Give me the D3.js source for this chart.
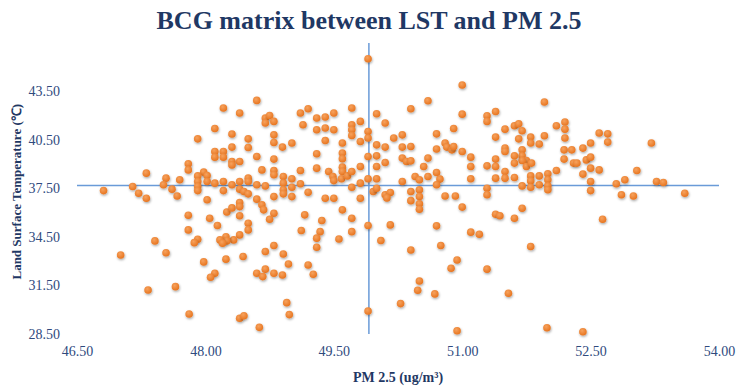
<!DOCTYPE html>
<html>
<head>
<meta charset="utf-8">
<script src="https://cdn.jsdelivr.net/npm/d3@7"></script>
<style>
  body { margin: 0; background: #fff; }
  svg { display: block; font-family: "Palatino Linotype", "Book Antiqua", Palatino, "Liberation Serif", serif; }
</style>
</head>
<body>
<div id="chart"></div>
<script>
// PM 2.5 (ug/m3) readings, one per point
const pm25 = [
  48.21, 48.40, 48.11, 48.31, 48.50, 47.91, 48.50, 48.11, 48.21, 48.11,
  48.21, 48.31, 48.31, 48.40, 48.31, 47.80, 47.80, 47.98, 48.02, 47.91,
  47.31, 47.54, 47.70, 47.91, 48.02, 48.11, 48.21, 48.31, 48.40, 48.50,
  47.51, 47.61, 47.91, 47.91, 48.21, 48.40, 48.45, 48.50, 47.15, 47.22,
  47.31, 46.81, 48.02, 47.67, 48.50, 47.80, 47.80, 48.05, 48.14, 48.25,
  48.31, 48.40, 48.40, 48.40, 48.50, 48.50, 48.40, 48.33, 48.24, 48.25,
  48.17, 48.20, 47.91, 47.87, 47.41, 47.54, 47.01, 47.98, 48.24, 48.44,
  48.11, 48.06, 47.65, 47.33, 47.81, 48.40, 48.45, 49.90, 48.60, 48.70,
  48.75, 48.70, 48.80, 49.11, 49.20, 49.14, 49.30, 49.40, 49.50, 49.71,
  49.30, 49.40, 49.50, 49.71, 49.71, 49.71, 49.81, 49.90, 49.90, 50.00,
  48.80, 48.80, 48.90, 49.01, 49.40, 49.60, 49.60, 49.60, 49.81, 50.00,
  50.00, 48.60, 48.80, 49.30, 49.90, 48.66, 48.80, 48.80, 49.11, 49.30,
  49.44, 49.60, 49.60, 49.81, 50.00, 48.91, 49.01, 49.49, 49.50, 49.59,
  49.66, 49.71, 49.90, 50.00, 48.60, 48.70, 48.91, 49.01, 49.11, 48.91,
  49.81, 49.20, 49.71, 48.80, 48.91, 49.01, 49.40, 49.50, 49.81, 49.96,
  48.60, 48.66, 48.68, 48.80, 48.75, 49.60, 49.71, 49.71, 49.90, 49.16,
  49.36, 49.12, 49.34, 49.30, 49.30, 49.56, 48.80, 48.70, 48.91, 48.97,
  48.70, 48.60, 48.67, 48.80, 48.90, 49.20, 49.26, 48.95, 48.98, 48.63,
  49.90, 51.00, 50.60, 50.40, 51.00, 50.10, 51.29, 51.29, 51.39, 51.50,
  50.20, 50.30, 50.70, 50.90, 50.10, 50.30, 50.40, 50.80, 50.82, 50.88,
  50.90, 50.70, 51.00, 51.39, 51.50, 51.50, 50.30, 50.35, 50.40, 50.10,
  50.60, 51.10, 50.55, 51.10, 51.29, 51.39, 51.39, 51.50, 50.70, 50.45,
  50.50, 50.60, 50.74, 50.30, 50.70, 51.10, 51.39, 51.50, 50.10, 50.16,
  50.40, 50.50, 50.50, 50.80, 50.92, 51.29, 51.29, 50.00, 50.12, 50.40,
  50.50, 50.50, 51.00, 51.39, 50.16, 50.05, 50.70, 51.10, 51.20, 50.40,
  50.75, 50.94, 50.87, 51.29, 50.50, 50.48, 50.68, 50.28, 51.54, 50.94,
  51.96, 51.61, 51.66, 51.70, 51.66, 51.80, 51.80, 51.90, 51.96, 52.10,
  52.20, 52.20, 52.20, 52.60, 52.70, 52.70, 51.70, 51.70, 51.75, 51.70,
  51.61, 51.61, 51.75, 51.81, 52.19, 52.28, 52.41, 52.50, 52.19, 52.30,
  52.34, 52.45, 52.50, 52.50, 52.60, 51.61, 51.80, 51.80, 51.90, 52.00,
  52.00, 52.10, 52.41, 52.50, 53.04, 51.70, 51.80, 51.90, 52.00, 52.00,
  52.50, 52.80, 52.90, 52.86, 53.00, 51.70, 51.61, 51.44, 52.64, 51.80,
  51.99, 52.41, 53.21, 53.27, 53.35, 53.60
];

// Land surface temperature (deg C), same order as pm25
const lst = [
  42.48, 42.17, 41.21, 40.87, 40.57, 40.57, 40.04, 39.79, 39.79, 39.44,
  39.44, 40.06, 39.17, 39.17, 38.96, 39.03, 38.65, 38.51, 38.30, 38.28,
  38.45, 38.14, 38.04, 37.93, 37.93, 37.83, 37.93, 37.73, 37.93, 38.14,
  37.73, 37.46, 37.62, 37.37, 37.37, 37.46, 37.31, 37.17, 37.62, 37.21,
  36.90, 37.37, 36.80, 37.04, 37.93, 35.85, 34.94, 35.66, 35.21, 36.05,
  36.30, 36.63, 36.38, 35.81, 35.35, 34.94, 34.63, 34.32, 34.52, 34.26,
  34.32, 34.12, 34.36, 34.15, 34.26, 33.53, 33.39, 32.96, 33.13, 33.29,
  32.26, 32.01, 31.43, 31.22, 29.74, 29.47, 29.63, 45.53, 42.95, 41.86,
  42.02, 41.55, 41.65, 42.17, 42.43, 41.44, 41.86, 41.92, 42.17, 42.48,
  41.13, 41.24, 41.13, 41.44, 41.13, 40.78, 41.65, 41.03, 40.62, 42.12,
  40.82, 40.35, 40.06, 40.31, 40.47, 40.31, 39.69, 39.34, 40.41, 40.20,
  39.52, 39.48, 39.32, 39.65, 39.48, 38.65, 38.61, 38.35, 38.61, 38.76,
  38.55, 38.82, 38.55, 38.86, 38.86, 38.24, 38.10, 38.24, 37.99, 38.10,
  38.28, 38.55, 38.10, 38.10, 37.73, 37.66, 37.83, 37.58, 37.79, 37.42,
  37.83, 37.27, 37.58, 37.00, 37.17, 37.00, 36.90, 36.90, 36.90, 37.31,
  36.84, 36.49, 36.18, 35.97, 35.60, 36.18, 35.66, 34.83, 35.21, 35.87,
  35.52, 34.90, 34.83, 34.43, 33.87, 34.38, 33.97, 33.60, 33.45, 32.83,
  32.51, 32.26, 32.05, 32.26, 32.15, 32.77, 32.20, 30.44, 29.70, 28.91,
  29.92, 43.90, 42.93, 42.43, 42.10, 41.55, 42.00, 41.65, 42.26, 41.17,
  40.62, 40.82, 40.88, 41.21, 40.06, 40.06, 40.10, 40.31, 40.06, 39.89,
  40.10, 39.94, 39.79, 40.68, 40.00, 39.79, 39.38, 39.17, 39.21, 39.11,
  39.38, 39.44, 38.86, 38.86, 38.90, 39.32, 38.86, 38.55, 38.49, 38.24,
  38.04, 38.24, 38.08, 37.93, 37.73, 38.10, 38.14, 38.14, 37.11, 37.25,
  37.31, 37.42, 37.00, 37.04, 37.04, 37.52, 37.11, 37.52, 36.92, 36.75,
  36.55, 36.22, 36.35, 35.91, 35.25, 34.28, 35.19, 34.80, 34.67, 33.70,
  33.97, 33.08, 32.57, 32.51, 31.78, 31.21, 30.98, 30.38, 31.02, 28.70,
  42.85, 41.38, 41.50, 41.07, 40.57, 40.68, 40.31, 40.25, 40.76, 41.38,
  41.61, 41.17, 40.62, 40.93, 40.88, 40.37, 39.89, 39.52, 39.23, 39.23,
  39.52, 39.07, 38.86, 39.07, 39.89, 39.89, 40.00, 40.31, 39.32, 39.07,
  39.07, 39.27, 39.44, 38.76, 38.65, 38.18, 38.28, 37.97, 38.28, 38.41,
  38.04, 38.61, 38.39, 37.93, 38.61, 37.66, 37.58, 37.73, 37.66, 37.42,
  37.37, 37.79, 38.04, 37.11, 37.04, 36.28, 35.66, 35.81, 35.60, 33.91,
  28.89, 28.64, 40.31, 37.93, 37.87, 37.21
];

// tick labels and the two quadrant divider values
const xTicks = [46.5, 48.0, 49.5, 51.0, 52.5, 54.0];
const yTicks = [28.5, 31.5, 34.5, 37.5, 40.5, 43.5];
const pmMean = 49.91;
const lstMean = 37.68;

const points = pm25.map((v, i) => ({ pm: v, lst: lst[i] }));

const W = 738, H = 391;
const navy = "#1F3864";
const tickBlue = "#2F4A7E";

const svg = d3.select("#chart").append("svg")
    .attr("width", W)
    .attr("height", H);

const defs = svg.append("defs");
const shadow = defs.append("filter")
    .attr("id", "dotShadow")
    .attr("x", "-50%").attr("y", "-50%")
    .attr("width", "200%").attr("height", "200%");
shadow.append("feDropShadow")
    .attr("dx", 0.6).attr("dy", 1.3)
    .attr("stdDeviation", 0.9)
    .attr("flood-color", "#000")
    .attr("flood-opacity", 0.35);

// slight highlight so the markers look like the rounded Excel ones
const grad = defs.append("radialGradient")
    .attr("id", "dotFill")
    .attr("cx", "40%").attr("cy", "35%").attr("r", "65%");
grad.append("stop").attr("offset", "0%").attr("stop-color", "#F6A25E");
grad.append("stop").attr("offset", "100%").attr("stop-color", "#E8751F");

const x = d3.scaleLinear()
    .domain([46.5, 54])
    .range([77, 719]);

const y = d3.scaleLinear()
    .domain([28.5, 46.5])
    .range([334, 43]);

// axes: labels only, no lines
const xAxis = svg.append("g")
    .attr("transform", `translate(0,${y(28.5)})`)
    .call(d3.axisBottom(x).tickValues(xTicks).tickFormat(d3.format(".2f")).tickSize(0).tickPadding(12));

const yAxis = svg.append("g")
    .attr("transform", `translate(${x(46.5)},0)`)
    .call(d3.axisLeft(y).tickValues(yTicks).tickFormat(d3.format(".2f")).tickSize(0).tickPadding(17));

[xAxis, yAxis].forEach(g => {
    g.select(".domain").remove();
    g.selectAll("text")
        .style("font-family", "\"Palatino Linotype\", \"Book Antiqua\", \"Liberation Serif\", serif")
        .style("font-size", "14px")
        .attr("fill", tickBlue);
});

// quadrant divider lines
svg.append("line")
    .attr("x1", x(46.5)).attr("x2", x(54))
    .attr("y1", y(lstMean)).attr("y2", y(lstMean))
    .attr("stroke", "#6A9BD8")
    .attr("stroke-width", 1.5);

svg.append("line")
    .attr("x1", x(pmMean)).attr("x2", x(pmMean))
    .attr("y1", y(46.5)).attr("y2", y(28.5))
    .attr("stroke", "#6A9BD8")
    .attr("stroke-width", 1.5);

// points
svg.selectAll("circle.pt")
    .data(points)
    .enter().append("circle")
    .attr("class", "pt")
    .attr("cx", d => x(d.pm))
    .attr("cy", d => y(d.lst))
    .attr("r", 3.8)
    .attr("fill", "url(#dotFill)")
    .attr("filter", "url(#dotShadow)");

// titles
svg.append("text")
    .attr("x", 369)
    .attr("y", 29)
    .attr("text-anchor", "middle")
    .style("font-size", "26px")
    .style("font-weight", "bold")
    .attr("fill", navy)
    .text("BCG matrix between LST and PM 2.5");

svg.append("text")
    .attr("x", x(50.25))
    .attr("y", 382)
    .attr("text-anchor", "middle")
    .style("font-size", "14px")
    .style("font-weight", "bold")
    .attr("fill", navy)
    .text("PM 2.5 (ug/m³)");

svg.append("text")
    .attr("transform", `translate(21,${y(37.3)}) rotate(-90)`)
    .attr("text-anchor", "middle")
    .style("font-size", "13px")
    .style("font-weight", "bold")
    .attr("fill", navy)
    .text("Land Surface Temperature (℃)");
</script>
</body>
</html>
